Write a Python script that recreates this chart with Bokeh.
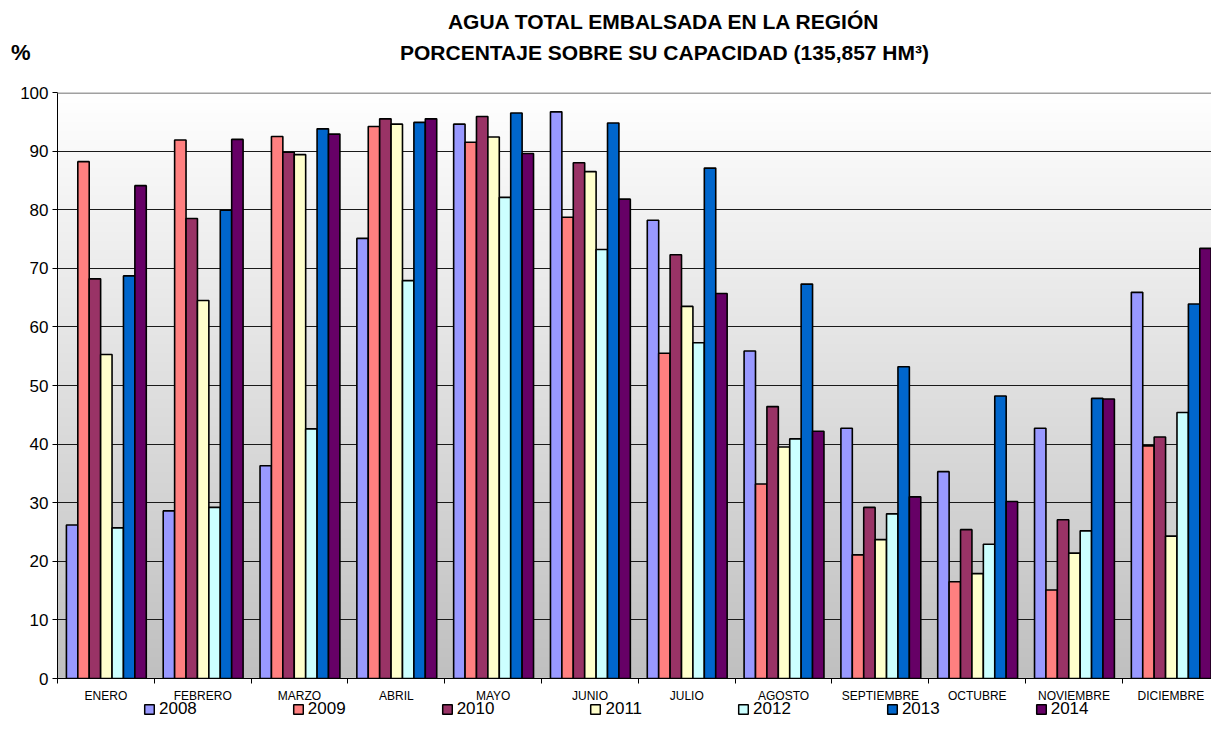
import numpy as np
from bokeh.plotting import figure
from bokeh.layouts import column
from bokeh.models import (Range1d, FixedTicker, Legend, LegendItem, Label, Span)
from bokeh.core.properties import value
from bokeh.embed import file_html
from bokeh.resources import INLINE

months = ["ENERO", "FEBRERO", "MARZO", "ABRIL", "MAYO", "JUNIO", "JULIO",
          "AGOSTO", "SEPTIEMBRE", "OCTUBRE", "NOVIEMBRE", "DICIEMBRE"]
years = ["2008", "2009", "2010", "2011", "2012", "2013", "2014"]
v2008 = [26.2, 28.6, 36.3, 75.1, 94.6, 96.7, 78.2, 55.9, 42.7, 35.3, 42.7, 65.9]
v2009 = [88.2, 91.9, 92.5, 94.2, 91.5, 78.7, 55.5, 33.2, 21.1, 16.5, 15.1, 39.7]
v2010 = [68.2, 78.5, 89.8, 95.5, 95.9, 88.0, 72.3, 46.4, 29.2, 25.4, 27.1, 41.2]
v2011 = [55.3, 64.5, 89.4, 94.6, 92.4, 86.5, 63.5, 39.5, 23.7, 17.9, 21.4, 24.3]
v2012 = [25.7, 29.2, 42.6, 67.9, 82.1, 73.2, 57.3, 40.9, 28.1, 22.9, 25.2, 45.4]
v2013 = [68.7, 79.9, 93.8, 94.9, 96.5, 94.8, 87.1, 67.3, 53.2, 48.2, 47.8, 63.9]
v2014 = [84.1, 92.0, 92.9, 95.5, 89.6, 81.8, 65.7, 42.2, 31.0, 30.2, 47.7, 73.4]
series = [v2008, v2009, v2010, v2011, v2012, v2013, v2014]
colors = ["#9999FF", "#FF8080", "#993366", "#FFFFCC", "#CCFFFF", "#0066CC", "#660066"]
y_ticks = [0, 10, 20, 30, 40, 50, 60, 70, 80, 90, 100]

FONT = "Liberation Sans"
W = 1211
LEFT = 57
HEAD_H, MAIN_H, STRIP_H = 82, 606, 41


def bare(fig):
    fig.title.text = ""
    fig.xaxis.visible = False
    fig.xgrid.visible = False
    fig.ygrid.visible = False
    fig.outline_line_color = None
    fig.background_fill_color = "white"
    fig.border_fill_color = "white"


# ---------- header (titles) ----------
head = figure(width=W, height=HEAD_H, output_backend="svg", toolbar_location=None,
              x_range=Range1d(LEFT, W), y_range=Range1d(0, HEAD_H),
              min_border_left=LEFT, min_border_right=0,
              min_border_top=0, min_border_bottom=0)
bare(head)
# the "%" unit sits left of the frame: shown as the header's only y tick label
head.yaxis.ticker = FixedTicker(ticks=[HEAD_H - 52])
head.yaxis.major_label_overrides = {HEAD_H - 52: "%"}
head.yaxis.axis_line_color = None
head.yaxis.major_tick_line_color = None
head.yaxis.minor_tick_line_color = None
head.yaxis.major_tick_out = 0
head.yaxis.major_label_standoff = 27
head.yaxis.major_label_text_font = FONT
head.yaxis.major_label_text_font_style = "bold"
head.yaxis.major_label_text_font_size = "22px"
head.yaxis.major_label_text_color = "black"
head.add_layout(Label(x=664, y=HEAD_H - 21,
                      text="AGUA TOTAL EMBALSADA EN LA REGIÓN", text_align="center",
                      text_baseline="middle", text_font=FONT, text_font_style="bold",
                      text_font_size="21px", text_color="black"))
head.add_layout(Label(x=664, y=HEAD_H - 52,
                      text="PORCENTAJE SOBRE SU CAPACIDAD (135,857 HM³)", text_align="center",
                      text_baseline="middle", text_font=FONT, text_font_style="bold",
                      text_font_size="21px", text_color="black"))

# ---------- main chart ----------
x_range = Range1d(0, 11.92)
p = figure(width=W, height=MAIN_H, output_backend="svg", toolbar_location=None,
           x_range=x_range, y_range=Range1d(0, 100),
           min_border_left=LEFT, min_border_right=0, min_border_top=10,
           min_border_bottom=10)
p.title.text = ""
p.background_fill_color = "white"
p.border_fill_color = "white"
p.outline_line_color = None

# gradient background (gray at bottom to white at top)
N = 256
g = np.linspace(192, 255, N).astype(np.uint8)
img = np.empty((N, 1), dtype=np.uint32)
view = img.view(dtype=np.uint8).reshape((N, 1, 4))
view[:, 0, 0] = g
view[:, 0, 1] = g
view[:, 0, 2] = g
view[:, 0, 3] = 255
p.image_rgba(image=[img], x=0, y=0, dw=12, dh=100, level="image")

ncat = len(months)
nser = len(series)
group_start = 0.092
bw = 0.825 / nser
base = np.arange(ncat)
for k, (vals, col) in enumerate(zip(series, colors)):
    p.vbar(x=base + group_start + (k + 0.5) * bw, top=vals, width=bw,
           fill_color=col, line_color="black", line_width=1.6)

p.xgrid.visible = False
p.ygrid.ticker = FixedTicker(ticks=y_ticks[1:-1])
p.ygrid.grid_line_color = "#1a1a1a"
p.ygrid.grid_line_width = 1
p.add_layout(Span(location=100, dimension="width", line_color="#A0A0A0", line_width=3))

p.yaxis.ticker = FixedTicker(ticks=y_ticks)
p.yaxis.major_tick_out = 5
p.yaxis.major_tick_in = 0
p.yaxis.minor_tick_line_color = None
p.yaxis.axis_line_color = "black"
p.yaxis.major_tick_line_color = "black"
p.yaxis.major_label_text_font = FONT
p.yaxis.major_label_text_font_size = "17px"
p.yaxis.major_label_text_color = "black"
p.yaxis.major_label_standoff = 4

# x axis: only the category boundary ticks (labels are drawn in the strip below)
p.xaxis.ticker = FixedTicker(ticks=[], minor_ticks=list(range(ncat + 1)))
p.xaxis.major_tick_out = 0
p.xaxis.major_tick_in = 0
p.xaxis.major_label_standoff = 0
p.xaxis.minor_tick_line_color = "black"
p.xaxis.minor_tick_out = 5
p.xaxis.minor_tick_in = 0
p.xaxis.axis_line_color = "black"

# ---------- category labels + legend strip ----------
strip = figure(width=W, height=STRIP_H, output_backend="svg", toolbar_location=None,
               x_range=x_range, y_range=Range1d(0, STRIP_H),
               min_border_left=LEFT, min_border_right=0,
               min_border_top=0, min_border_bottom=0)
bare(strip)
strip.yaxis.visible = False
centers = [i + 0.5 for i in range(ncat)]
strip.text(x=centers, y=STRIP_H, text=months, text_align="center",
           text_baseline="top", text_font=value(FONT), text_font_size="12px",
           text_color="black")
leg_renderers = [strip.rect(x=[-5], y=[-5], width=1, height=1, fill_color=c,
                            line_color="black", line_width=1.5) for c in colors]
legend = Legend(items=[LegendItem(label=y, renderers=[r]) for y, r in zip(years, leg_renderers)],
                orientation="horizontal", location=(143 - LEFT, 10),
                glyph_width=12, glyph_height=12, label_standoff=4, spacing=95,
                label_text_font=FONT, label_text_font_size="17px",
                label_text_color="black",
                border_line_color=None, background_fill_alpha=0,
                padding=0, margin=0)
strip.add_layout(legend, "center")

layout = column(head, p, strip, spacing=0)
open("out.html", "w").write(file_html(layout, INLINE))
